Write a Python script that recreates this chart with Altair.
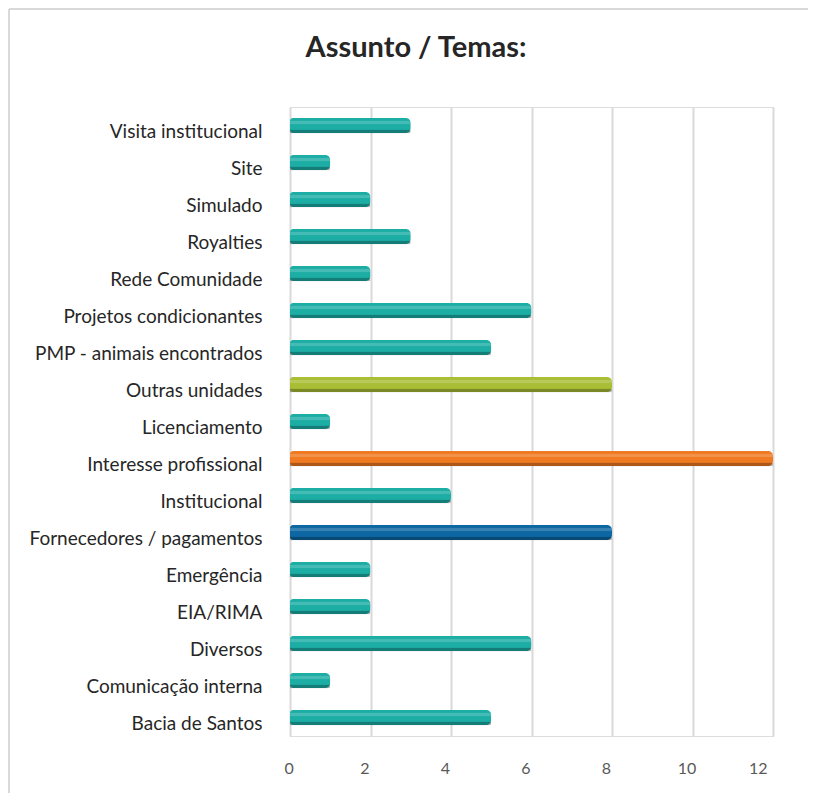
import altair as alt
import pandas as pd

categories = [
    "Visita institucional", "Site", "Simulado", "Royalties", "Rede Comunidade",
    "Projetos condicionantes", "PMP - animais encontrados", "Outras unidades",
    "Licenciamento", "Interesse profissional", "Institucional",
    "Fornecedores / pagamentos", "Emergência", "EIA/RIMA", "Diversos",
    "Comunicação interna", "Bacia de Santos",
]
values = [3, 1, 2, 3, 2, 6, 5, 8, 1, 12, 4, 8, 2, 2, 6, 1, 5]
groups = ["t", "t", "t", "t", "t", "t", "t", "g", "t", "o", "t", "b", "t", "t", "t", "t", "t"]
x_ticks = [0, 2, 4, 6, 8, 10, 12]
title_text = ["Assunto / Temas:"]

group_keys = ["t", "g", "o", "b"]
group_colors = ["#1cada5", "#a9be35", "#f07a22", "#0d67a3"]

df = pd.DataFrame({"cat": categories, "val": values, "grp": groups})

W, H = 483, 629
PL, PT, PR, PB = 282, 99, 35, 57
FONT = "Lato"

xenc = alt.X("val:Q", scale=alt.Scale(domain=[0, 12], nice=False),
             axis=alt.Axis(values=x_ticks, title=None, grid=True, gridColor="#d9d9d9",
                           gridWidth=2, domain=False, ticks=False, labelPadding=24,
                           labelOffset=-6,
                           labelFontSize=16, labelColor="#595959", labelFont=FONT,
                           format="d"))
yenc = alt.Y("cat:N", sort=categories,
             axis=alt.Axis(title=None, domain=False, ticks=False, grid=False,
                           labelPadding=28, labelOffset=6, labelFontSize=19,
                           labelColor="#262626", labelFont=FONT, labelLimit=300))

base = alt.Chart(df)

bars = base.mark_bar(size=15, cornerRadius=3, cornerRadiusEnd=5).encode(
    x=xenc, y=yenc,
    color=alt.Color("grp:N", scale=alt.Scale(domain=group_keys, range=group_colors), legend=None),
)
shade = base.mark_bar(size=4, yOffset=6, color="black", opacity=0.28, cornerRadiusEnd=2).encode(
    x=alt.X("val:Q"), y=alt.Y("cat:N", sort=categories)
)
hilite = base.mark_bar(size=4, yOffset=-3, color="white", opacity=0.18, cornerRadiusEnd=2).encode(
    x=alt.X("val:Q"), y=alt.Y("cat:N", sort=categories)
)

one = pd.DataFrame({"t": title_text})
frame_top = alt.Chart(one).mark_rule(color="#d9d9d9", strokeWidth=2).encode(
    x=alt.value(-PL + 1), x2=alt.value(W + PR), y=alt.value(-PT + 1)
)
frame_left = alt.Chart(one).mark_rule(color="#d9d9d9", strokeWidth=2).encode(
    x=alt.value(-PL + 1), y=alt.value(-PT + 1), y2=alt.value(H + PB)
)
title = alt.Chart(one).mark_text(fontSize=29, font=FONT, fontWeight="bold", color="#262626",
                                 align="center", baseline="middle").encode(
    text="t:N", x=alt.value(416 - 8 - PL), y=alt.value(48 - 8 - PT)
)

chart = alt.layer(frame_top, frame_left, title, bars, shade, hilite).properties(
    width=W, height=H,
    autosize=alt.AutoSizeParams(type="none"),
    padding={"left": PL, "top": PT, "right": PR, "bottom": PB},
).configure_view(stroke=None).configure(background="white")

chart.save("out.html", embed_options={"renderer": "svg", "actions": False})
